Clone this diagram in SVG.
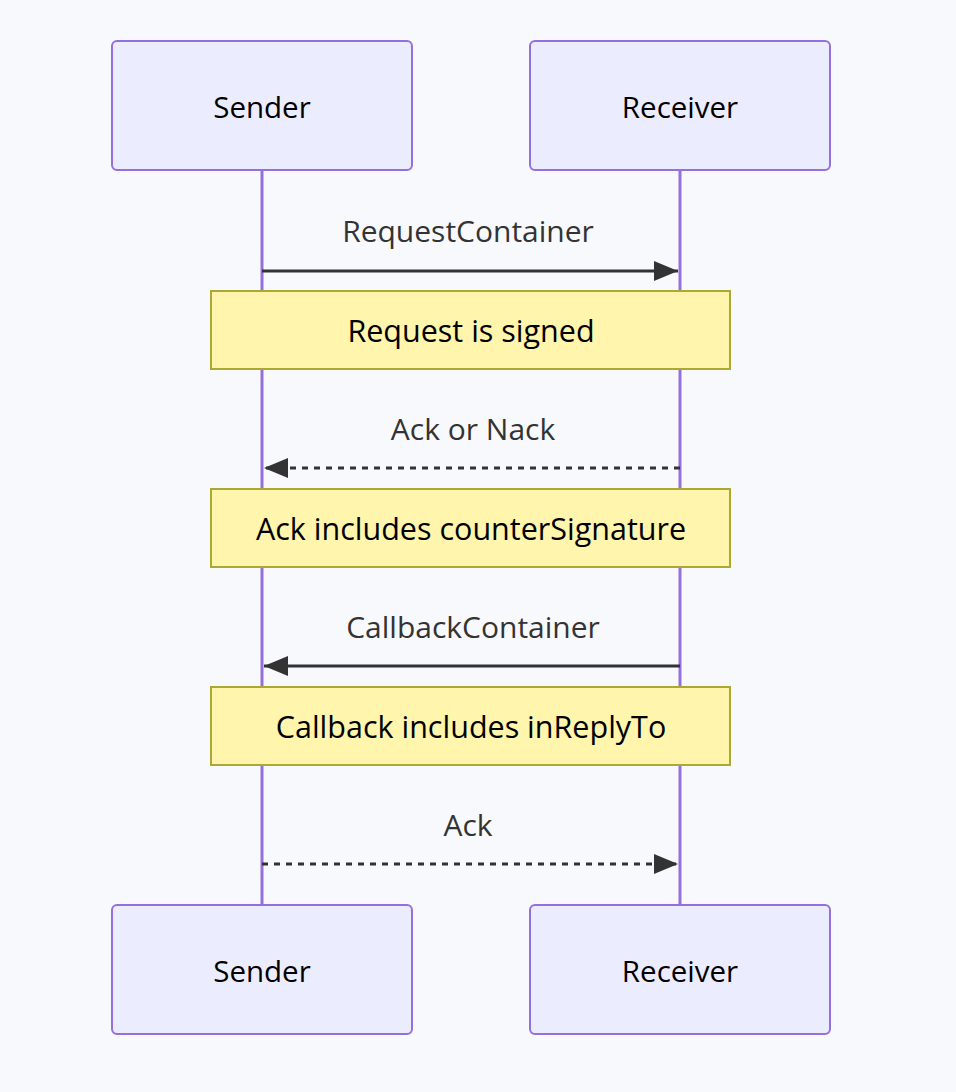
<svg xmlns="http://www.w3.org/2000/svg" width="956" height="1092" viewBox="0 0 956 1092">
<defs>
<style>
.actor{fill:#ECECFF;stroke:#9370DB;stroke-width:2}
.life{stroke:#9370DB;stroke-width:3}
.atext{font-family:"Open Sans",sans-serif;font-size:29.5px;fill:#000;text-anchor:middle;dominant-baseline:central}
.mtext{font-family:"Open Sans",sans-serif;font-size:30px;fill:#333;text-anchor:middle;dominant-baseline:central}
.note{fill:#FFF5AD;stroke:#AAAA33;stroke-width:2}
.ntext{font-family:"Open Sans",sans-serif;font-size:30.5px;fill:#000;text-anchor:middle;dominant-baseline:central}
.msg{stroke:#333;stroke-width:3;fill:none}
.dash{stroke-dasharray:6,6}
</style>
<marker id="arrow" viewBox="0 0 12 10" refX="12" refY="5" markerWidth="8" markerHeight="6.67" markerUnits="strokeWidth" orient="auto-start-reverse">
<path d="M0,0 L12,5 L0,10 Z" fill="#333"/>
</marker>
</defs>
<rect width="956" height="1092" fill="#F8F9FD"/>
<g id="lifelines">
<line class="life" x1="262" y1="170" x2="262" y2="905"/>
<line class="life" x1="680" y1="170" x2="680" y2="905"/>
</g>
<g id="sender-top"><rect class="actor" x="112" y="41" width="300" height="129" rx="5"/><text class="atext" x="262" y="106">Sender</text></g>
<g id="receiver-top"><rect class="actor" x="530" y="41" width="300" height="129" rx="5"/><text class="atext" x="680" y="106">Receiver</text></g>
<g id="sender-bottom"><rect class="actor" x="112" y="905" width="300" height="129" rx="5"/><text class="atext" x="262" y="970">Sender</text></g>
<g id="receiver-bottom"><rect class="actor" x="530" y="905" width="300" height="129" rx="5"/><text class="atext" x="680" y="970">Receiver</text></g>
<g id="connectors">
<line class="msg" x1="262" y1="271" x2="678" y2="271" marker-end="url(#arrow)"/>
<text class="mtext" x="468" y="230">RequestContainer</text>
<line class="msg dash" x1="680" y1="468" x2="264" y2="468" marker-end="url(#arrow)"/>
<text class="mtext" x="473" y="428">Ack or Nack</text>
<line class="msg" x1="680" y1="666" x2="264" y2="666" marker-end="url(#arrow)"/>
<text class="mtext" x="473" y="626">CallbackContainer</text>
<line class="msg dash" x1="262" y1="864" x2="678" y2="864" marker-end="url(#arrow)"/>
<text class="mtext" x="468" y="824">Ack</text>
</g>
<g id="note1"><rect class="note" x="211" y="291" width="519" height="78"/><text class="ntext" x="471" y="330">Request is signed</text></g>
<g id="note2"><rect class="note" x="211" y="489" width="519" height="78"/><text class="ntext" x="471" y="528">Ack includes counterSignature</text></g>
<g id="note3"><rect class="note" x="211" y="687" width="519" height="78"/><text class="ntext" x="471" y="726">Callback includes inReplyTo</text></g>
</svg>
